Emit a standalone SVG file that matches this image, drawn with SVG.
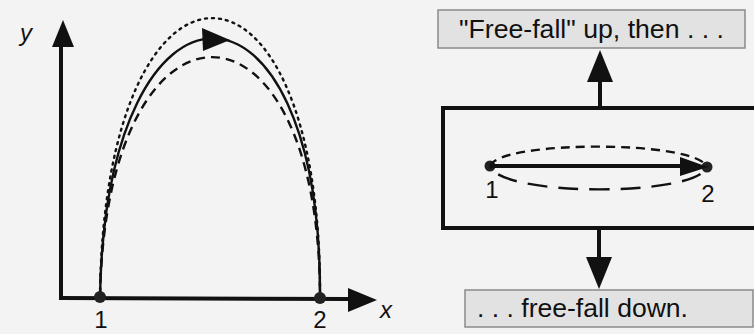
<svg xmlns="http://www.w3.org/2000/svg" width="754" height="334" viewBox="0 0 754 334">
<defs>
<style>
.ax{stroke:#111;stroke-width:4;fill:none}
.hd{fill:#111}
.pt{fill:#222}
.cv{fill:none;stroke:#111;stroke-width:2.4}
.dot{stroke-dasharray:2 5;stroke-linecap:round}
.dash{stroke-dasharray:9 6}
.lbl{font-family:"Liberation Sans",Arial,sans-serif;font-size:24px;fill:#111}
.it{font-style:italic}
.box{fill:#e2e2e2;stroke:#8a8a8a;stroke-width:1.5}
.bt{font-size:26px}
</style>
</defs>
<rect x="0" y="0" width="754" height="334" fill="#f3f3f3"/>

<g id="plot">
  <g id="axes">
    <line class="ax" x1="61" y1="300" x2="61" y2="45"/>
    <polygon class="hd" points="63,20 52,47 74,47"/>
    <line class="ax" x1="59" y1="298" x2="350" y2="299"/>
    <polygon class="hd" points="377,300 348,288 348,312"/>
    <text class="lbl it" x="20" y="41" font-size="26">y</text>
    <text class="lbl it" x="380" y="318">x</text>
  </g>
  <g id="trajectories">
    <path class="cv dot" d="M100,297 C104,-75 322,-75 320,298"/>
    <path class="cv dash" d="M100,297 C106,-23 320,-23 320,298"/>
    <path class="cv" d="M100,297 C106,-48 322,-48 320,298"/>
    <polygon class="hd" points="202,28 230,40 203,51"/>
  </g>
  <g id="p1"><circle class="pt" cx="100" cy="297" r="6"/><text class="lbl" x="101" y="328" text-anchor="middle" font-size="23">1</text></g>
  <g id="p2"><circle class="pt" cx="320" cy="298" r="6"/><text class="lbl" x="320" y="328" text-anchor="middle" font-size="23">2</text></g>
</g>

<g id="top-box">
  <rect class="box" x="438" y="10" width="307" height="38"/>
  <text class="lbl bt" x="459" y="38" textLength="265" lengthAdjust="spacingAndGlyphs">"Free-fall" up, then . . .</text>
</g>
<g id="bottom-box">
  <rect class="box" x="465" y="290" width="288" height="37"/>
  <text class="lbl bt" x="477" y="317" textLength="211" lengthAdjust="spacingAndGlyphs">. . . free-fall down.</text>
</g>

<g id="frame">
  <rect x="443" y="108" width="320" height="120" fill="none" stroke="#111" stroke-width="4"/>
  <circle class="pt" cx="490" cy="166" r="5.5"/>
  <circle class="pt" cx="707" cy="167" r="5.5"/>
  <path class="cv" stroke-dasharray="9 6" d="M490,166 C500,140 697,140 707,167"/>
  <path class="cv" stroke-dasharray="3 9 20 11 20 11 20 11 20 11 20 11 20 11 20 11 20 11 20 11" d="M490,166 C500,197 697,197 707,167"/>
  <line class="ax" x1="490" y1="166" x2="684" y2="166"/>
  <polygon class="hd" points="708,167 680,157 680,176"/>
  <text class="lbl" x="492" y="198" text-anchor="middle" font-size="22">1</text>
  <text class="lbl" x="708" y="202" text-anchor="middle" font-size="22">2</text>
</g>

<g id="connectors">
  <line class="ax" x1="600" y1="108" x2="600" y2="80"/>
  <polygon class="hd" points="600,50 587,82 613,82"/>
  <line class="ax" x1="599" y1="228" x2="599" y2="260"/>
  <polygon class="hd" points="599,289 586,257 612,257"/>
</g>
</svg>
